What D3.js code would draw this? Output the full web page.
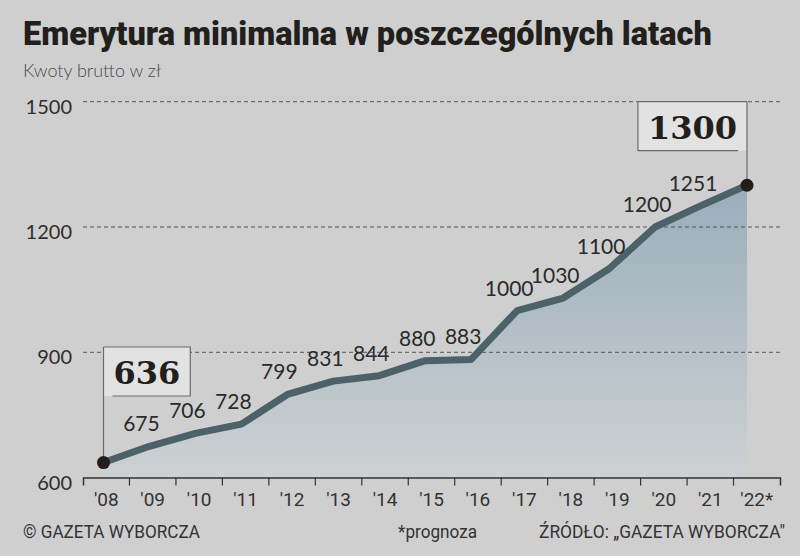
<!DOCTYPE html>
<html lang="pl">
<head>
<meta charset="utf-8">
<title>Emerytura minimalna</title>
<script src="https://d3js.org/d3.v7.min.js"></script>
<style>
  html, body { margin: 0; padding: 0; background: #cfcfcf; }
  svg { display: block; }
  .title { font-family: Roboto, sans-serif; font-weight: 900; font-size: 32.5px; fill: #221f1c; }
  .subtitle { font-family: Lato, sans-serif; font-weight: 300; font-size: 18px; fill: #4a4a4a; }
  .ylab { font-family: Lato, sans-serif; font-size: 20px; fill: #2e2e2e; }
  .vlab { font-family: Lato, sans-serif; font-size: 21px; fill: #2a2a2a; }
  .xlab { font-family: Roboto, sans-serif; font-size: 19px; fill: #333; }
  .foot { font-family: Roboto, sans-serif; font-size: 18px; fill: #333; }
  .callout { font-family: "DejaVu Serif", serif; font-weight: bold; font-size: 32px; fill: #221f1c; }
</style>
</head>
<body>
<script>
// dane
const years = ["08", "09", "10", "11", "12", "13", "14", "15", "16", "17", "18", "19", "20", "21", "22"];
const xLabels = ["'08", "'09", "'10", "'11", "'12", "'13", "'14", "'15", "'16", "'17", "'18", "'19", "'20", "'21", "'22*"];
const values = [636, 675, 706, 728, 799, 831, 844, 880, 883, 1000, 1030, 1100, 1200, 1251, 1300];
const yTicks = [600, 900, 1200, 1500];

const W = 800, H = 556;
const data = years.map((yr, i) => ({ yr, label: xLabels[i], v: values[i] }));

const svg = d3.select("body").append("svg").attr("width", W).attr("height", H);
svg.append("rect").attr("width", W).attr("height", H).attr("fill", "#cfcfcf");

const x = d3.scalePoint().domain(years).range([103.5, 747]);
const xBand = d3.scaleBand().domain(years).range([83, 780]);
const y = d3.scaleLinear().domain([600, 1500]).range([477.6, 101.7]);

// gradient pod linią
const grad = svg.append("defs").append("linearGradient")
  .attr("id", "areaGrad").attr("gradientUnits", "userSpaceOnUse")
  .attr("x1", 0).attr("x2", 0).attr("y1", y(1300)).attr("y2", y(600));
grad.append("stop").attr("offset", 0).attr("stop-color", "#99aeba");
grad.append("stop").attr("offset", 1).attr("stop-color", "#cdd1d3");

svg.append("path").datum(data)
  .attr("fill", "url(#areaGrad)")
  .attr("d", d3.area().x(d => x(d.yr)).y0(y(600)).y1(d => y(d.v)));

// siatka
svg.append("g").selectAll("line").data(yTicks.filter(t => t > 600)).join("line")
  .attr("x1", 83).attr("x2", 780)
  .attr("y1", d => y(d)).attr("y2", d => y(d))
  .attr("stroke", "#555").attr("stroke-width", 1).attr("stroke-dasharray", "4,3");

svg.append("g").selectAll("text").data(yTicks).join("text")
  .attr("class", "ylab").attr("text-anchor", "end")
  .attr("x", 72).attr("y", d => y(d) + 5).attr("dy", "0.35em")
  .text(d => d);

// oś X
const xAxis = svg.append("g").attr("transform", `translate(0,${y(600)})`)
  .call(d3.axisBottom(xBand).tickSizeInner(0).tickSizeOuter(8).tickPadding(15)
    .tickFormat((d, i) => xLabels[i]));
xAxis.attr("font-family", null).attr("font-size", null);
xAxis.select(".domain").attr("stroke", "#333").attr("stroke-width", 1.5);
xAxis.selectAll(".tick line").remove();
xAxis.selectAll(".tick text").attr("class", "xlab").attr("fill", null);
xAxis.append("g").selectAll("line").data(years.slice(1)).join("line")
  .attr("x1", d => xBand(d)).attr("x2", d => xBand(d))
  .attr("y1", 0).attr("y2", 8).attr("stroke", "#333").attr("stroke-width", 1.2);

// linia
svg.append("path").datum(data)
  .attr("fill", "none").attr("stroke", "#4c6268").attr("stroke-width", 7)
  .attr("stroke-linejoin", "round")
  .attr("d", d3.line().x(d => x(d.yr)).y(d => y(d.v)));

// etykiety wartości
svg.append("g").selectAll("text").data(data.slice(1, -1)).join("text")
  .attr("class", "vlab").attr("text-anchor", "middle")
  .attr("x", d => x(d.yr) - 8).attr("y", d => y(d.v) - 15)
  .text(d => d.v);

// wyróżnione punkty
function callout(d, side, boxTop) {
  const px = x(d.yr), py = y(d.v);
  const g = svg.append("g");
  const t = g.append("text").attr("class", "callout").text(d.v);
  const bb = t.node().getBBox();
  const bw = bb.width + 20, bh = 49;
  const left = side === "right" ? px : px - bw;
  const right = left + bw, bottom = boxTop + bh;
  g.insert("rect", "text").attr("x", left).attr("y", boxTop).attr("width", bw).attr("height", bh)
    .attr("fill", "#e2e2e2");
  const p = d3.path();
  if (side === "right") {
    p.moveTo(left, boxTop); p.lineTo(right, boxTop); p.lineTo(right, bottom); p.lineTo(left + 9, bottom);
  } else {
    p.moveTo(right, boxTop); p.lineTo(left, boxTop); p.lineTo(left, bottom); p.lineTo(right - 9, bottom);
  }
  g.append("path").attr("d", p.toString()).attr("fill", "none").attr("stroke", "#6a6a6a").attr("stroke-width", 1.2);
  g.append("line").attr("x1", px).attr("x2", px).attr("y1", boxTop).attr("y2", py)
    .attr("stroke", "#6a6a6a").attr("stroke-width", 1.2);
  t.attr("x", left + bw / 2).attr("y", boxTop + 37).attr("text-anchor", "middle");
  g.append("circle").attr("cx", px).attr("cy", py).attr("r", 6.5).attr("fill", "#221e1b");
}
callout(data[0], "right", 347);
callout(data[data.length - 1], "left", y(1500));

// tytuły
svg.append("text").attr("class", "title").attr("x", 23).attr("y", 45)
  .text("Emerytura minimalna w poszczególnych latach");
svg.append("text").attr("class", "subtitle").attr("x", 23).attr("y", 77)
  .text("Kwoty brutto w zł");

// stopka
svg.append("text").attr("class", "foot").attr("x", 23).attr("y", 538)
  .attr("textLength", 177).attr("lengthAdjust", "spacingAndGlyphs")
  .text("© GAZETA WYBORCZA");
svg.append("text").attr("class", "foot").attr("x", 398).attr("y", 538)
  .attr("textLength", 79).attr("lengthAdjust", "spacingAndGlyphs")
  .text("*prognoza");
svg.append("text").attr("class", "foot").attr("x", 539).attr("y", 538)
  .attr("textLength", 246).attr("lengthAdjust", "spacingAndGlyphs")
  .text("ŹRÓDŁO: „GAZETA WYBORCZA\"");
</script>
</body>
</html>
